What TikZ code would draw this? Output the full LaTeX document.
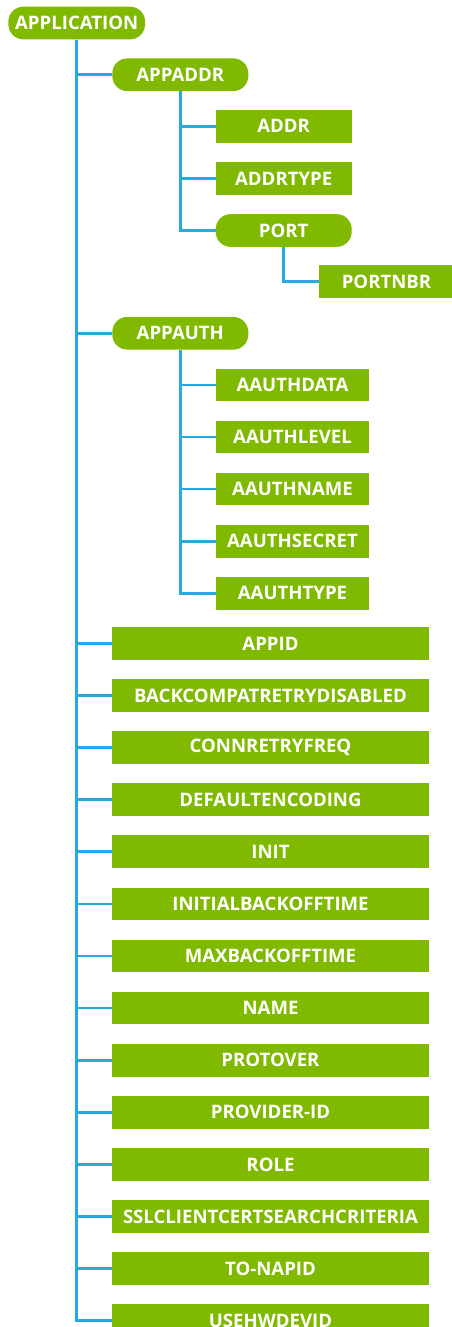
\documentclass[tikz,border=0pt]{standalone}
\usepackage{fontspec}
\setmainfont{Open Sans}
\usetikzlibrary{positioning}
\definecolor{leafgreen}{HTML}{80BA00}
\definecolor{linkblue}{HTML}{29A9E1}

\begin{document}
\begin{tikzpicture}[x=1pt, y=-1pt, node distance=19pt,
    every node/.style={font=\fontsize{18.6}{20}\selectfont\bfseries, text=white, inner sep=0pt, minimum height=32.7pt},
    leaf/.style={fill=leafgreen},
    pill/.style={fill=leafgreen, rounded corners=15pt},
    trunk/.style={draw=linkblue, line width=3.4pt},
    twig/.style={draw=linkblue, line width=2.7pt}]
    \useasboundingbox (0,0) rectangle (452,1327);

    % Root
    \node[pill, minimum width=136.7pt] (application) at (76.7,23) {APPLICATION};

    % APPADDR group
    \node[pill, minimum width=136pt] (appaddr) at (180.3,74.7) {APPADDR};
    \node[leaf, minimum width=136pt] (addr) at (283.7,126.3) {ADDR};
    \node[leaf, minimum width=136pt, below=of addr] (addrtype) {ADDRTYPE};
    \node[pill, minimum width=136pt, below=of addrtype] (port) {PORT};
    \node[leaf, minimum width=135pt] (portnbr) at (386.5,281.7) {PORTNBR};

    % APPAUTH group
    \node[pill, minimum width=136pt] (appauth) at (180.3,333.3) {APPAUTH};
    \node[leaf, minimum width=153.6pt] (aauthdata) at (292.5,384.9) {AAUTHDATA};
    \node[leaf, minimum width=153.6pt, below=of aauthdata] (aauthlevel) {AAUTHLEVEL};
    \node[leaf, minimum width=153.6pt, below=of aauthlevel] (aauthname) {AAUTHNAME};
    \node[leaf, minimum width=153.6pt, below=of aauthname] (aauthsecret) {AAUTHSECRET};
    \node[leaf, minimum width=153.6pt, below=of aauthsecret] (aauthtype) {AAUTHTYPE};

    % Plain attributes
    \node[leaf, minimum width=317.6pt] (appid) at (270.5,643.4) {APPID};
    \node[leaf, minimum width=317.6pt, below=of appid] (backcompat) {BACKCOMPATRETRYDISABLED};
    \node[leaf, minimum width=317.6pt, below=of backcompat] (connretry) {CONNRETRYFREQ};
    \node[leaf, minimum width=317.6pt, below=of connretry] (defaultenc) {DEFAULTENCODING};
    \node[leaf, minimum width=317.6pt, below=of defaultenc] (init) {INIT};
    \node[leaf, minimum width=317.6pt, below=of init] (initbackoff) {INITIALBACKOFFTIME};
    \node[leaf, minimum width=317.6pt, below=of initbackoff] (maxbackoff) {MAXBACKOFFTIME};
    \node[leaf, minimum width=317.6pt, below=of maxbackoff] (name) {NAME};
    \node[leaf, minimum width=317.6pt, below=of name] (protover) {PROTOVER};
    \node[leaf, minimum width=317.6pt, below=of protover] (providerid) {PROVIDER-ID};
    \node[leaf, minimum width=317.6pt, below=of providerid] (role) {ROLE};
    \node[leaf, minimum width=317.6pt, below=of role] (sslcriteria) {SSLCLIENTCERTSEARCHCRITERIA};
    \node[leaf, minimum width=317.6pt, below=of sslcriteria] (tonapid) {TO-NAPID};
    \node[leaf, minimum width=317.6pt, below=of tonapid] (usehwdevid) {USEHWDEVID};

    % Main trunk
    \draw[trunk] (application.south) -- (application.south |- usehwdevid.west);
    \draw[twig] (application.south) |- (appaddr.west);
    \draw[twig] (application.south) |- (appauth.west);
    \draw[twig] (application.south) |- (appid.west);
    \draw[twig] (application.south) |- (backcompat.west);
    \draw[twig] (application.south) |- (connretry.west);
    \draw[twig] (application.south) |- (defaultenc.west);
    \draw[twig] (application.south) |- (init.west);
    \draw[twig] (application.south) |- (initbackoff.west);
    \draw[twig] (application.south) |- (maxbackoff.west);
    \draw[twig] (application.south) |- (name.west);
    \draw[twig] (application.south) |- (protover.west);
    \draw[twig] (application.south) |- (providerid.west);
    \draw[twig] (application.south) |- (role.west);
    \draw[twig] (application.south) |- (sslcriteria.west);
    \draw[twig] (application.south) |- (tonapid.west);
    \draw[twig] (application.south) |- (usehwdevid.west);

    % APPADDR branches
    \draw[twig] (appaddr.south) |- (addr.west);
    \draw[twig] (appaddr.south) |- (addrtype.west);
    \draw[twig] (appaddr.south) |- (port.west);
    \draw[twig] (port.south) |- (portnbr.west);

    % APPAUTH branches
    \draw[twig] (appauth.south) |- (aauthdata.west);
    \draw[twig] (appauth.south) |- (aauthlevel.west);
    \draw[twig] (appauth.south) |- (aauthname.west);
    \draw[twig] (appauth.south) |- (aauthsecret.west);
    \draw[twig] (appauth.south) |- (aauthtype.west);
\end{tikzpicture}
\end{document}
